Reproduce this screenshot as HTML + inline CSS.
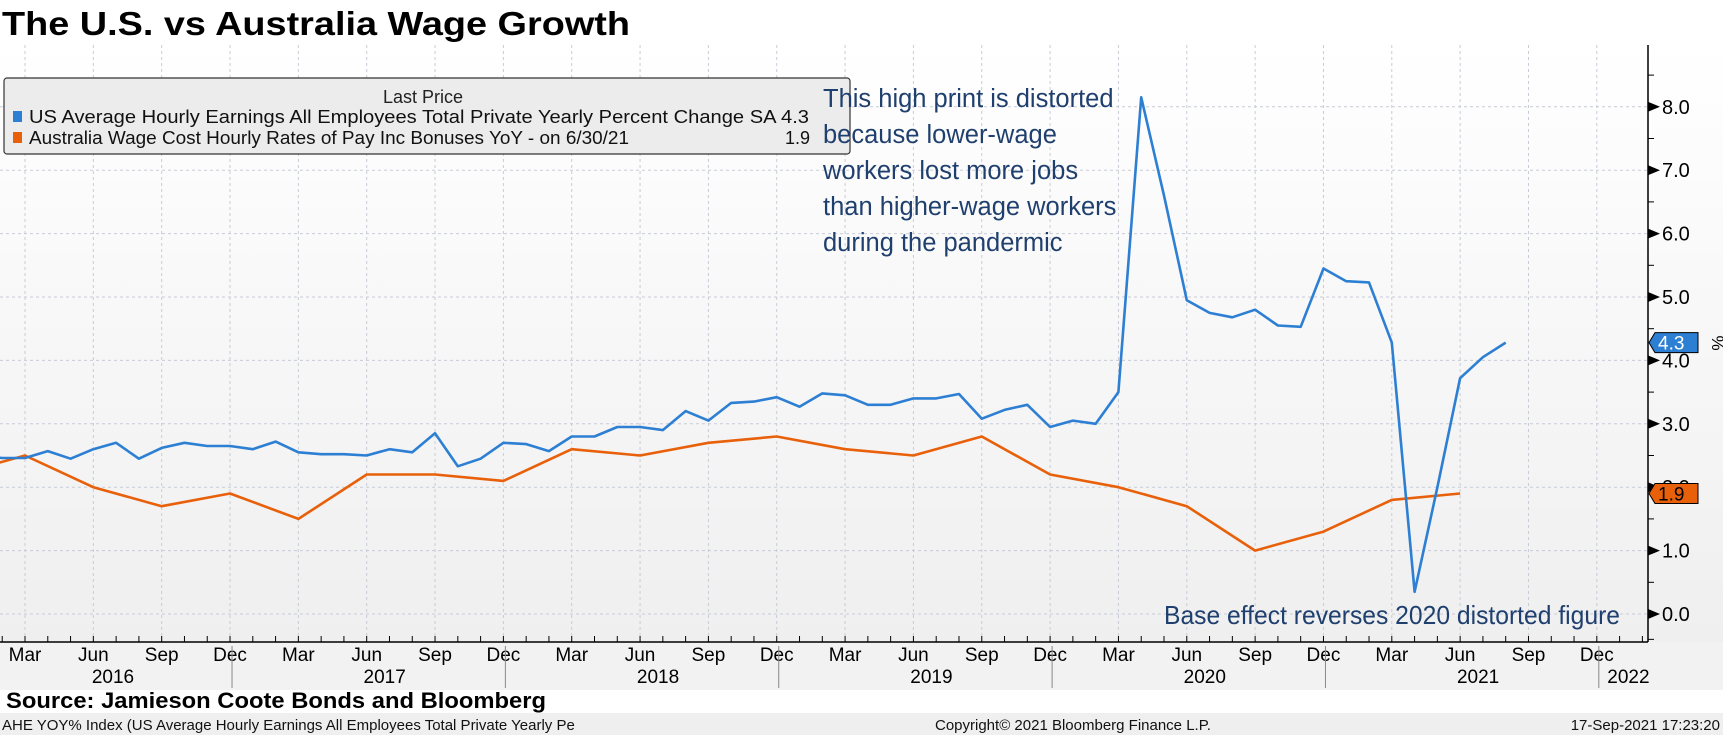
<!DOCTYPE html>
<html><head><meta charset="utf-8"><style>
body{margin:0;background:#fff;}
svg{display:block;font-family:"Liberation Sans Narrow","Liberation Sans",sans-serif;}
</style></head><body>
<svg id="chart" width="1723" height="735" viewBox="0 0 1723 735">
<defs>
<linearGradient id="bg" x1="0" y1="0" x2="0" y2="1">
<stop offset="0" stop-color="#ffffff"/><stop offset="1" stop-color="#efefef"/>
</linearGradient>
</defs>
<rect x="0" y="0" width="1723" height="735" fill="#fff"/>
<text x="2" y="35" font-size="33" font-weight="bold" textLength="628" lengthAdjust="spacingAndGlyphs" fill="#000">The U.S. vs Australia Wage Growth</text>
<rect x="0" y="45" width="1648" height="597" fill="url(#bg)"/>
<rect x="1648" y="45" width="75" height="597" fill="url(#bg)"/>
<rect x="0" y="642" width="1723" height="48" fill="#f2f2f2"/>
<g id="grid"></g>
<g id="xaxis"></g>
<g id="yaxis"></g>
<g id="series"></g>
<g>
<rect x="4" y="78" width="846" height="76" rx="3" fill="#ececec" stroke="#333" stroke-width="1.2"/>
<text x="423" y="103" font-size="18" text-anchor="middle" fill="#222">Last Price</text>
<rect x="13" y="111" width="9" height="11" fill="#2d7fd3"/>
<text x="29" y="123" font-size="18" fill="#111" textLength="780" lengthAdjust="spacingAndGlyphs">US Average Hourly Earnings All Employees Total Private Yearly Percent Change SA 4.3</text>
<rect x="13" y="132" width="9" height="11" fill="#e8600a"/>
<text x="29" y="144" font-size="18" fill="#111" textLength="600" lengthAdjust="spacingAndGlyphs">Australia Wage Cost Hourly Rates of Pay Inc Bonuses YoY -  on 6/30/21</text>
<text x="810" y="144" font-size="18" fill="#111" text-anchor="end">1.9</text>
</g>
<g fill="#1f3f6e" font-family="Liberation Sans, sans-serif" font-size="25.5">
<text x="823" y="107">This high print is distorted</text>
<text x="823" y="143">because lower-wage</text>
<text x="823" y="179">workers lost more jobs</text>
<text x="823" y="215">than higher-wage workers</text>
<text x="823" y="251">during the pandermic</text>
</g>
<text x="1164" y="624" fill="#1f3f6e" font-family="Liberation Sans, sans-serif" font-size="26" textLength="456" lengthAdjust="spacingAndGlyphs">Base effect reverses 2020 distorted figure</text>
<rect x="0" y="690" width="1723" height="23" fill="#fff"/>
<text x="6" y="708" font-size="22" font-weight="bold" textLength="540" lengthAdjust="spacingAndGlyphs">Source: Jamieson Coote Bonds and Bloomberg</text>
<rect x="0" y="713" width="1723" height="22" fill="#efefef"/>
<text x="2" y="730" font-size="15" fill="#111">AHE YOY% Index (US Average Hourly Earnings All Employees Total Private Yearly Pe</text>
<text x="935" y="730" font-size="15" fill="#111">Copyright© 2021 Bloomberg Finance L.P.</text>
<text x="1720" y="730" font-size="15" fill="#111" text-anchor="end">17-Sep-2021 17:23:20</text>
</svg>
<script>
const usMonths = ["2016-01","2016-02","2016-03","2016-04","2016-05","2016-06","2016-07","2016-08","2016-09","2016-10","2016-11","2016-12","2017-01","2017-02","2017-03","2017-04","2017-05","2017-06","2017-07","2017-08","2017-09","2017-10","2017-11","2017-12","2018-01","2018-02","2018-03","2018-04","2018-05","2018-06","2018-07","2018-08","2018-09","2018-10","2018-11","2018-12","2019-01","2019-02","2019-03","2019-04","2019-05","2019-06","2019-07","2019-08","2019-09","2019-10","2019-11","2019-12","2020-01","2020-02","2020-03","2020-04","2020-05","2020-06","2020-07","2020-08","2020-09","2020-10","2020-11","2020-12","2021-01","2021-02","2021-03","2021-04","2021-05","2021-06","2021-07","2021-08"];
const usValues = [2.5,2.46,2.46,2.57,2.45,2.6,2.7,2.45,2.62,2.7,2.65,2.65,2.6,2.72,2.55,2.52,2.52,2.5,2.6,2.55,2.85,2.33,2.45,2.7,2.68,2.57,2.8,2.8,2.95,2.95,2.9,3.2,3.05,3.33,3.35,3.42,3.27,3.48,3.45,3.3,3.3,3.4,3.4,3.47,3.08,3.22,3.3,2.95,3.05,3.0,3.5,8.15,6.6,4.95,4.75,4.68,4.8,4.55,4.53,5.45,5.25,5.23,4.28,0.35,2.0,3.72,4.05,4.28];
const auMonths = ["2015-12","2016-03","2016-06","2016-09","2016-12","2017-03","2017-06","2017-09","2017-12","2018-03","2018-06","2018-09","2018-12","2019-03","2019-06","2019-09","2019-12","2020-03","2020-06","2020-09","2020-12","2021-03","2021-06"];
const auValues = [2.2,2.5,2.0,1.7,1.9,1.5,2.2,2.2,2.1,2.6,2.5,2.7,2.8,2.6,2.5,2.8,2.2,2.0,1.7,1.0,1.3,1.8,1.9];
const yTicks = [0,1,2,3,4,5,6,7,8];
const xTickLabels = ["Mar","Jun","Sep","Dec"];
const yearLabels = ["2016","2017","2018","2019","2020","2021","2022"];

const NS="http://www.w3.org/2000/svg";
const AXIS_X=1648, AXIS_Y=642;
function mi(s){const [y,m]=s.split("-").map(Number);return (y-2016)*12+(m-3);}
function xs(m){return 25+22.78*m;}
function ys(v){return 614-63.4*v;}
function mk(tag,attrs,parent){const e=document.createElementNS(NS,tag);for(const k in attrs)e.setAttribute(k,attrs[k]);parent.appendChild(e);return e;}
const grid=document.getElementById("grid"),xa=document.getElementById("xaxis"),ya=document.getElementById("yaxis"),ser=document.getElementById("series");

yTicks.forEach(v=>{
  const y=ys(v);
  const g=mk("line",{x1:0,x2:AXIS_X,y1:y,y2:y,stroke:"#c8ccd6","stroke-dasharray":"3,3","stroke-width":1},grid);
  
  
  mk("polygon",{points:`${AXIS_X},${y-5} ${AXIS_X+12},${y} ${AXIS_X},${y+5}`,fill:"#000"},ya);
  const lab=mk("text",{x:AXIS_X+14,y:y+7,"font-size":20,fill:"#000"},ya);
  lab.textContent=v.toFixed(1);
  
  
  mk("line",{x1:AXIS_X,x2:AXIS_X+6,y1:ys(v+0.5),y2:ys(v+0.5),stroke:"#000"},ya);
});
mk("line",{x1:AXIS_X,x2:AXIS_X,y1:45,y2:AXIS_Y,stroke:"#000","stroke-width":1.5},ya);
mk("line",{x1:AXIS_X,x2:AXIS_X+6,y1:ys(-0.4),y2:ys(-0.4),stroke:"#000"},ya);

for(let m=-2;m<=72;m++){
  const x=xs(m); if(x<0||x>AXIS_X) continue;
  mk("line",{x1:x,x2:x,y1:AXIS_Y,y2:AXIS_Y-6,stroke:"#000"},xa);
  if(((m%3)+3)%3===0){
    const gl=mk("line",{x1:x,x2:x,y1:45,y2:AXIS_Y,stroke:"#c8ccd6","stroke-dasharray":"3,3"},grid);
    
    
    const t=mk("text",{x:x,y:AXIS_Y+19,"font-size":19,"text-anchor":"middle",fill:"#000"},xa);
    t.textContent=xTickLabels[(((m%12)+12)%12)/3];
    
    
  }
}
mk("line",{x1:0,x2:AXIS_X,y1:AXIS_Y,y2:AXIS_Y,stroke:"#000","stroke-width":1.5},xa);
yearLabels.forEach((yl,i)=>{
  const start=i*12-2, end=start+12;
  const sep=xs(start-1)+2;
  if(i>0) mk("line",{x1:sep,x2:sep,y1:AXIS_Y+4,y2:688,stroke:"#888"},xa);
  let cx=(Math.max(xs(start-1),0)+Math.min(xs(end-1),AXIS_X))/2+18;
  if(i===0) cx=113;
  if(i===6) cx=(xs(start-1)+AXIS_X)/2+6;
  const t=mk("text",{x:cx,y:AXIS_Y+41,"font-size":19,"text-anchor":"middle",fill:"#000"},xa);
  t.textContent=yl;
  
  
});

function line(months,vals,color,name){
  const pts=months.map((m,i)=>xs(mi(m)).toFixed(1)+","+ys(vals[i]).toFixed(1)).join(" ");
  const p=mk("polyline",{points:pts,fill:"none",stroke:color,"stroke-width":2.6,"stroke-linejoin":"round"},ser);
  
  
}
const clip=mk("clipPath",{id:"pc"},document.querySelector("defs"));
mk("rect",{x:0,y:45,width:AXIS_X,height:AXIS_Y-45},clip);
ser.setAttribute("clip-path","url(#pc)");
line(auMonths,auValues,"#e8600a","australia-line");
line(usMonths,usValues,"#2d7fd3","us-line");

function tag(v,color,textColor,name){
  const y=ys(v);
  const g=mk("g",{},document.getElementById("chart"));
  
  
  mk("polygon",{points:`${AXIS_X+1},${y} ${AXIS_X+7},${y-10} ${AXIS_X+50},${y-10} ${AXIS_X+50},${y+10} ${AXIS_X+7},${y+10}`,fill:color,stroke:"#000","stroke-width":1},g);
  const t=mk("text",{x:AXIS_X+10,y:y+7,"font-size":19,fill:textColor},g);
  t.textContent=v.toFixed(1);
}
tag(usValues[usValues.length-1],"#2d7fd3","#fff","us-last-price-tag");
tag(auValues[auValues.length-1],"#e8600a","#000","australia-last-price-tag");
const pc=mk("text",{x:1712,y:343,"font-size":17,"text-anchor":"middle",transform:"rotate(90 1712 343)",fill:"#000"},document.getElementById("chart"));
pc.textContent="%";


</script>
</body></html>
